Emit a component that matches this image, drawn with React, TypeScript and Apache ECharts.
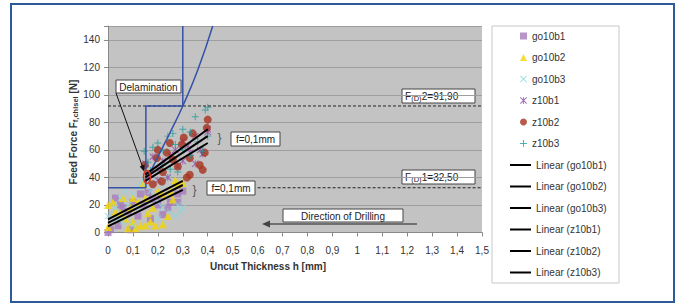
import React, { useEffect, useRef } from "react";
import * as echarts from "echarts";

// ---- data ----
const go10b1: number[][] = [[0,0],[0.01,2],[0.04,5],[0.06,18],[0.08,15],[0.1,22],[0.13,28],[0.14,20],[0.18,24],[0.2,20],[0.22,13],[0.25,22],[0.28,22],[0.28,28],[0.24,18],[0.17,10],[0.12,12],[0.05,20],[0.09,2],[0.3,30],[0.03,25],[0.16,29],[0.21,26]];
const go10b2: number[][] = [[0,4],[0,20],[0.02,22],[0.05,14],[0.06,25],[0.08,3],[0.1,8],[0.11,3],[0.13,5],[0.15,5],[0.17,8],[0.19,5],[0.22,6],[0.24,12],[0.15,25],[0.12,22],[0.14,35],[0.2,30],[0.22,28],[0.25,30],[0.27,38],[0.28,35],[0.18,18],[0.1,25],[0.03,15],[0.07,10],[0.26,24],[0.3,36],[0.16,14],[0.09,18]];
const go10b3: number[][] = [[0,12],[0.03,18],[0.05,25],[0.07,30],[0.1,28],[0.12,33],[0.14,38],[0.15,35],[0.17,30],[0.2,22],[0.22,18],[0.25,15],[0.28,20],[0.3,18],[0.27,12],[0.08,20],[0.12,18],[0.18,38],[0.22,35],[0.24,40],[0.1,5],[0.2,10],[0.06,8],[0.29,15],[0.04,10]];
const z10b1: number[][] = [[0.15,50],[0.17,42],[0.2,46],[0.22,52],[0.24,40],[0.25,56],[0.27,60],[0.3,52],[0.3,66],[0.32,63],[0.35,70],[0.37,60],[0.38,57],[0.4,73],[0.4,75],[0.35,50],[0.28,48],[0.2,38],[0.33,58],[0.18,55]];
const z10b2: number[][] = [[0.148,49],[0.2,60],[0.248,65],[0.296,64],[0.304,69],[0.34,72],[0.396,76],[0.4,82],[0.388,58],[0.368,49],[0.38,45.5],[0.328,42],[0.316,40],[0.28,48],[0.216,37],[0.18,35],[0.196,54],[0.236,58],[0.26,53],[0.328,54],[0.22,44]];
const z10b3: number[][] = [[0.145,59],[0.16,51],[0.18,62],[0.2,65],[0.22,60],[0.24,70],[0.26,72],[0.27,64],[0.3,75],[0.33,73],[0.35,84],[0.39,89],[0.4,91],[0.36,66],[0.38,59],[0.3,60],[0.25,46],[0.28,44],[0.22,49],[0.17,45],[0.33,56],[0.4,70]];

const trendGo10b1: number[][] = [[0, 9.5], [0.3, 37.5]];
const trendGo10b2: number[][] = [[0, 7], [0.3, 34.5]];
const trendGo10b3: number[][] = [[0, 4.5], [0.3, 31]];
const trendZ10b1: number[][] = [[0.15, 37.5], [0.4, 65]];
const trendZ10b2: number[][] = [[0.15, 40], [0.4, 70]];
const trendZ10b3: number[][] = [[0.15, 42], [0.4, 75]];

const delamLimitStep: number[][] = [[0, 32.5], [0.152, 32.5], [0.152, 91.9], [0.3, 91.9], [0.3, 150]];
const delamCurve: number[][] = [[0.165, 42], [0.2, 55], [0.25, 73], [0.3, 91.9], [0.36, 118], [0.42, 150]];
const fd2Line: number[][] = [[0, 91.9], [1.5, 91.9]];
const fd1Line: number[][] = [[0.6, 32.5], [1.5, 32.5]];

const scatterNames = ["go10b1", "go10b2", "go10b3", "z10b1", "z10b2", "z10b3"];
const lineNames = ["Linear (go10b1)", "Linear (go10b2)", "Linear (go10b3)", "Linear (z10b1)", "Linear (z10b2)", "Linear (z10b3)"];

const X_SYM = "path://M0,1L1,0L5,4L9,0L10,1L6,5L10,9L9,10L5,6L1,10L0,9L4,5Z";
const PLUS_SYM = "path://M4.3,0H5.7V4.3H10V5.7H5.7V10H4.3V5.7H0V4.3H4.3Z";
const AST_SYM = "path://M0,1L1,0L5,4L9,0L10,1L6,5L10,9L9,10L5,6L1,10L0,9L4,5Z M4.4,0H5.6V10H4.4Z";

const FONT = "Arial, 'Liberation Sans', sans-serif";

export default function App() {
  const ref = useRef<HTMLDivElement>(null);
  useEffect(() => {
    if (!ref.current) return;
    const chart = echarts.init(ref.current, null, { renderer: "svg" });
    const box = (x: number, y: number, w: number, h: number, text: string) => ({
      type: "group",
      z: 10,
      children: [
        { type: "rect", shape: { x, y, width: w, height: h }, style: { fill: "#fff", stroke: "#444", lineWidth: 1 } },
        {
          type: "text",
          x: x + w / 2,
          y: y + h / 2 + 0.5,
          style: { text, fill: "#222", font: `10px ${FONT}`, align: "center", verticalAlign: "middle" },
        },
      ],
    });
    const fdBox = (x: number, y: number, w: number, h: number, rest: string) => ({
      type: "group",
      z: 10,
      children: [
        { type: "rect", shape: { x, y, width: w, height: h }, style: { fill: "#fff", stroke: "#444", lineWidth: 1 } },
        { type: "text", x: x + 3, y: y + h / 2 + 0.5, style: { text: "F", fill: "#222", font: `10px ${FONT}`, align: "left", verticalAlign: "middle" } },
        { type: "text", x: x + 9.2, y: y + h / 2 + 2, style: { text: "(D)", fill: "#222", font: `7.5px ${FONT}`, align: "left", verticalAlign: "middle" } },
        { type: "text", x: x + 19.8, y: y + h / 2 + 0.5, style: { text: rest, fill: "#222", font: `10px ${FONT}`, align: "left", verticalAlign: "middle" } },
      ],
    });
    const trend = (name: string, data: number[][]) => ({
      name,
      type: "line",
      data,
      symbol: "none",
      lineStyle: { color: "#000", width: 2 },
      itemStyle: { color: "#000" },
      z: 5,
    });
    const option: any = {
      animation: false,
      backgroundColor: "#fff",
      textStyle: { fontFamily: FONT },
      grid: { left: 108, top: 26, width: 374, height: 206.5, show: true, backgroundColor: "#c3c3c3", borderWidth: 0 },
      xAxis: {
        type: "value",
        min: 0,
        max: 1.5,
        interval: 0.1,
        axisLine: { show: true, onZero: false, lineStyle: { color: "#888" } },
        axisTick: { show: true, length: 4, lineStyle: { color: "#888" } },
        splitLine: { show: false },
        axisLabel: {
          margin: 13,
          color: "#333",
          fontSize: 10,
          fontFamily: FONT,
          formatter: (v: number) => String(Math.round(v * 10) / 10).replace(".", ","),
        },
      },
      yAxis: {
        type: "value",
        min: 0,
        max: 150,
        interval: 20,
        axisLine: { show: true, lineStyle: { color: "#888" } },
        axisTick: { show: true, length: 4, lineStyle: { color: "#888" } },
        splitLine: { show: true, lineStyle: { color: "#9e9e9e", width: 1 } },
        axisLabel: {
          margin: 8,
          color: "#333",
          fontSize: 10,
          fontFamily: FONT,
          formatter: (v: number) => (v > 140 ? "" : String(v)),
        },
      },
      legend: [
        {
          orient: "vertical",
          left: 520,
          top: 30,
          padding: 0,
          itemWidth: 7,
          itemHeight: 7,
          itemGap: 9.5,
          data: scatterNames,
          textStyle: { color: "#333", fontSize: 10, fontFamily: FONT, lineHeight: 12 },
        },
        {
          orient: "vertical",
          left: 510,
          top: 159,
          padding: 0,
          itemWidth: 21,
          itemHeight: 2,
          itemGap: 9.5,
          icon: "rect",
          data: lineNames,
          textStyle: { color: "#333", fontSize: 10, fontFamily: FONT, lineHeight: 12 },
        },
      ],
      series: [
        { name: "go10b1", type: "scatter", data: go10b1, symbol: "rect", symbolSize: 7, itemStyle: { color: "#a67cbc" }, z: 2 },
        { name: "go10b2", type: "scatter", data: go10b2, symbol: "triangle", symbolSize: 8, itemStyle: { color: "#f2d600" }, z: 2 },
        { name: "go10b3", type: "scatter", data: go10b3, symbol: X_SYM, symbolSize: 7, itemStyle: { color: "#8cd6e0" }, z: 2 },
        { name: "z10b1", type: "scatter", data: z10b1, symbol: AST_SYM, symbolSize: 7, itemStyle: { color: "#8c4aa8" }, z: 2 },
        { name: "z10b2", type: "scatter", data: z10b2, symbol: "circle", symbolSize: 8, itemStyle: { color: "#a8321e" }, z: 2 },
        { name: "z10b3", type: "scatter", data: z10b3, symbol: PLUS_SYM, symbolSize: 7, itemStyle: { color: "#1f9c9c" }, z: 2 },
        trend(lineNames[0], trendGo10b1),
        trend(lineNames[1], trendGo10b2),
        trend(lineNames[2], trendGo10b3),
        trend(lineNames[3], trendZ10b1),
        trend(lineNames[4], trendZ10b2),
        trend(lineNames[5], trendZ10b3),
        { type: "line", data: delamLimitStep, symbol: "none", lineStyle: { color: "#3551a8", width: 1.5 }, z: 4, silent: true },
        { type: "line", data: delamCurve, symbol: "none", smooth: true, clip: true, lineStyle: { color: "#3551a8", width: 1.5 }, z: 4, silent: true },
        { type: "line", data: fd2Line, symbol: "none", lineStyle: { color: "#222", width: 1, type: [3, 2] }, z: 3, silent: true },
        { type: "line", data: fd1Line, symbol: "none", lineStyle: { color: "#222", width: 1, type: [3, 2] }, z: 3, silent: true },
      ],
      graphic: [
        { type: "rect", z: -1, shape: { x: 11, y: 4, width: 663, height: 298 }, style: { fill: "none", stroke: "#2c5a9a", lineWidth: 2 } },
        { type: "rect", z: 0, shape: { x: 492, y: 26, width: 127, height: 257 }, style: { fill: "#fff", stroke: "#c8c8c8", lineWidth: 1 } },
        {
          type: "text",
          z: 10,
          x: 73,
          y: 132,
          rotation: Math.PI / 2,
          style: {
            text: "Feed Force F{s|f,chisel} [N]",
            font: `bold 10px ${FONT}`,
            fill: "#333",
            align: "center",
            verticalAlign: "middle",
            rich: { s: { fontSize: 7.5, fontWeight: "bold", fontFamily: FONT, fill: "#333", padding: [4, 0, 0, 0] } },
          },
        },
        {
          type: "text",
          z: 10,
          x: 268,
          y: 266,
          style: { text: "Uncut Thickness h [mm]", font: `bold 10px ${FONT}`, fill: "#333", align: "center", verticalAlign: "middle" },
        },
        box(116, 80, 65, 13, "Delamination"),
        box(231, 132, 49, 14, "f=0,1mm"),
        box(207, 181, 48, 14, "f=0,1mm"),
        fdBox(402, 89, 73, 14, "2=91,90"),
        fdBox(402, 170, 73, 14, "1=32,50"),
        box(283, 209, 120, 13, "Direction of Drilling"),
        { type: "line", z: 10, shape: { x1: 116, y1: 93, x2: 143, y2: 168 }, style: { stroke: "#111", lineWidth: 1 } },
        { type: "polygon", z: 10, shape: { points: [[144.5, 172], [144.6, 164.6], [139.7, 166.4]] }, style: { fill: "#111" } },
        { type: "line", z: 10, shape: { x1: 268, y1: 224, x2: 417, y2: 224 }, style: { stroke: "#555", lineWidth: 1.5 } },
        { type: "polygon", z: 10, shape: { points: [[262, 224], [270, 220.5], [270, 227.5]] }, style: { fill: "#444" } },
        { type: "ellipse", z: 10, shape: { cx: 147, cy: 177, rx: 3.5, ry: 6.5 }, style: { fill: "none", stroke: "#e2301c", lineWidth: 1.5 } },
        { type: "text", z: 10, x: 219.5, y: 138, style: { text: "}", font: `22px 'DejaVu Sans'`, fontWeight: "lighter", fill: "#555", align: "center", verticalAlign: "middle" } },
        { type: "text", z: 10, x: 194.5, y: 190, style: { text: "}", font: `22px 'DejaVu Sans'`, fontWeight: "lighter", fill: "#555", align: "center", verticalAlign: "middle" } },
      ],
    };
    chart.setOption(option);
    return () => chart.dispose();
  }, []);
  return <div ref={ref} style={{ position: "fixed", left: 0, top: 0, width: 678, height: 304 }} />;
}
